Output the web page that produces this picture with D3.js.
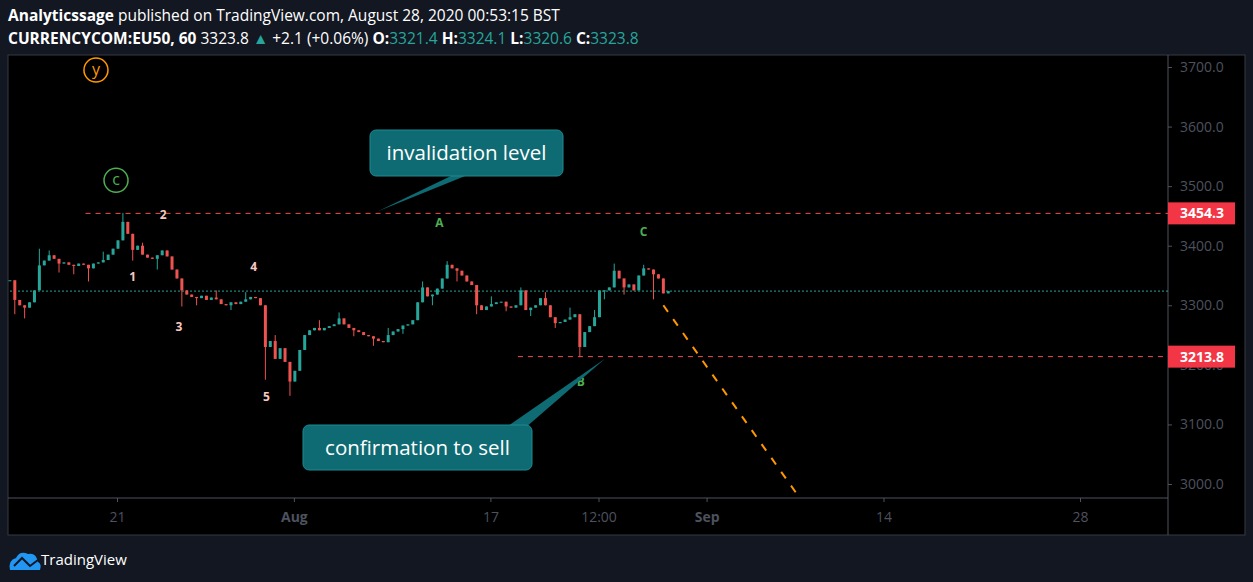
<!DOCTYPE html>
<html>
<head>
<meta charset="utf-8">
<script src="https://cdn.jsdelivr.net/npm/d3@7"></script>
<style>
body { margin:0; background:#131722; font-family:"Open Sans", "Noto Sans", sans-serif; }
</style>
</head>
<body>
<svg id="chart" width="1253" height="582"></svg>
<script>
// 6-hour closes, starting Jul 14 (t in trading days, 0 = Jul 21)
var closes = [3342,3309,3300,3296,3305,3325,3367,3375,3384,3378,3370,3372,3368,3366,3370,3368,3362,3370,3372,3376,
  3385,3395,3409,3440,3420,3393,3400,3385,3380,3378,3384,3392,3382,3360,3345,3325,3318,3314,3312,3316,
  3309,3313,3310,3302,3300,3305,3302,3306,3310,3314,3312,3300,3230,3240,3210,3228,3205,3172,3190,3225,
  3250,3258,3262,3258,3262,3265,3268,3278,3268,3262,3258,3255,3250,3248,3244,3240,3238,3250,3256,3260,
  3266,3268,3275,3305,3330,3315,3318,3328,3345,3368,3362,3358,3350,3340,3334,3300,3292,3298,3302,3305,
  3306,3298,3296,3300,3325,3292,3296,3300,3312,3300,3280,3270,3272,3276,3280,3285,3230,3255,3265,3280,
  3325,3325,3330,3358,3345,3330,3335,3325,3350,3362,3360,3352,3345,3320,3323.8];
var tStart = -5.45, tStep = 0.25;
// wick extremes [bar index, price]
var spikes = [[1,3285],[3,3278],[6,3395],[8,3392],[10,3355],[13,3352],[16,3340],[19,3390],[23,3455],[25,3375],[27,3405],
  [30,3360],[33,3372],[35,3298],[38,3300],[42,3325],[45,3292],[48,3322],[52,3175],[54,3250],[57,3148],[60,3238],[63,3275],
  [67,3288],[70,3248],[74,3232],[77,3262],[80,3252],[84,3340],[86,3300],[89,3374],[91,3340],[95,3285],[98,3315],[101,3290],
  [104,3330],[106,3282],[109,3322],[111,3262],[114,3296],[116,3213],[119,3292],[121,3310],[123,3370],[125,3318],[129,3368],[131,3310]];

var priceTicks = [3000,3100,3200,3300,3400,3500,3600,3700];
var timeTicks = [{t:0,l:"21"},{t:9,l:"Aug"},{t:19,l:"17"},{t:24.5,l:"12:00"},{t:30,l:"Sep"},{t:39,l:"14"},{t:49,l:"28"}];

var lastPrice = 3323.8, invalidation = 3454.3, confirmation = 3213.8;
var projection = [{t:27.8,p:3300},{t:34.6,p:2983}];
var waveLabels = [{t:0.8,p:3340,l:"1"},{t:2.35,p:3445,l:"2"},{t:3.15,p:3256,l:"3"},{t:6.95,p:3357,l:"4"},{t:7.6,p:3139,l:"5"}];
var abcLabels = [{t:16.4,p:3432,l:"A"},{t:23.6,p:3165,l:"B"},{t:26.8,p:3416,l:"C"}];
var circles = [{t:-1.07,p:3695,l:"y",c:"#ff9800"},{t:-0.05,p:3510,l:"c",c:"#4caf50"}];

var svg = d3.select("#chart");
var L = 10, R = 1168, T = 56, B = 498;
var x = d3.scaleLinear().domain([0,49]).range([117,1080]);
var y = d3.scaleLinear().domain([3000,3700]).range([484,67]);

svg.append("rect").attr("x",8).attr("y",55).attr("width",1237).attr("height",480).attr("fill","#000").attr("stroke","#363a45");
svg.append("line").attr("x1",R).attr("x2",R).attr("y1",55).attr("y2",535).attr("stroke","#50535e");
svg.append("line").attr("x1",8).attr("x2",R).attr("y1",B).attr("y2",B).attr("stroke","#50535e");

// header
var h = svg.append("text").attr("x",8).attr("y",21).attr("fill","#fff").attr("font-size",15.5);
h.append("tspan").attr("font-weight","bold").text("Analyticssage");
h.append("tspan").text(" published on TradingView.com, August 28, 2020 00:53:15 BST");
var h2 = svg.append("text").attr("x",8).attr("y",44).attr("fill","#fff").attr("font-size",15.5);
h2.append("tspan").attr("font-weight","bold").text("CURRENCYCOM:EU50, 60");
h2.append("tspan").text(" 3323.8 ");
h2.append("tspan").attr("fill","#26a69a").text("\u25B2");
h2.append("tspan").text(" +2.1 (+0.06%) ");
[["O:","3321.4"],["H:","3324.1"],["L:","3320.6"],["C:","3323.8"]].forEach(function(d){
  h2.append("tspan").attr("font-weight","bold").text(d[0]);
  h2.append("tspan").attr("fill","#26a69a").text(d[1]+" ");
});

// axes
var yAxis = svg.append("g").attr("transform","translate("+R+",0)")
  .call(d3.axisRight(y).tickValues(priceTicks).tickFormat(d3.format(".1f")).tickSize(4).tickPadding(8));
yAxis.select(".domain").remove();
yAxis.selectAll("line").attr("stroke","#50535e");
yAxis.selectAll("text").attr("fill","#4c525e").attr("font-size",14).attr("font-family","Open Sans");

var xAxis = svg.append("g").attr("transform","translate(0,"+B+")")
  .call(d3.axisBottom(x).tickValues(timeTicks.map(function(d){return d.t;}))
    .tickFormat(function(d,i){return timeTicks[i].l;}).tickSize(4).tickPadding(10));
xAxis.select(".domain").remove();
xAxis.selectAll("line").attr("stroke","#50535e");
xAxis.selectAll("text").attr("fill","#4c525e").attr("font-size",14).attr("font-family","Open Sans")
  .attr("font-weight",function(d,i){return /[A-Za-z]/.test(timeTicks[i].l)?"bold":null;});

var plot = svg.append("g");

// levels
plot.append("line").attr("x1",L).attr("x2",R).attr("y1",y(lastPrice)).attr("y2",y(lastPrice))
  .attr("stroke","#26a69a").attr("stroke-dasharray","2,2");
plot.append("line").attr("x1",x(-1.6)).attr("x2",R).attr("y1",y(invalidation)).attr("y2",y(invalidation))
  .attr("stroke","#ef5350").attr("stroke-dasharray","5,5");
plot.append("line").attr("x1",x(20.4)).attr("x2",R).attr("y1",y(confirmation)).attr("y2",y(confirmation))
  .attr("stroke","#ef5350").attr("stroke-dasharray","5,5");

// candles
var bars = closes.map(function(c,i){
  var o = i ? closes[i-1] : c;
  return {t:tStart+i*tStep, o:o, c:c, h:Math.max(o,c), l:Math.min(o,c)};
});
spikes.forEach(function(s){ var b = bars[s[0]]; b.h = Math.max(b.h,s[1]); b.l = Math.min(b.l,s[1]); });
var g = plot.selectAll(".candle").data(bars).enter().append("g");
g.append("line").attr("x1",function(d){return x(d.t);}).attr("x2",function(d){return x(d.t);})
  .attr("y1",function(d){return y(d.h);}).attr("y2",function(d){return y(d.l);})
  .attr("stroke",function(d){return d.c>=d.o?"#26a69a":"#ef5350";});
g.append("rect").attr("x",function(d){return x(d.t)-1.5;}).attr("width",3)
  .attr("y",function(d){return y(Math.max(d.o,d.c));})
  .attr("height",function(d){return Math.max(1,Math.abs(y(d.o)-y(d.c)));})
  .attr("fill",function(d){return d.c>=d.o?"#26a69a":"#ef5350";});

// projection
plot.append("path").attr("d",d3.line().x(function(d){return x(d.t);}).y(function(d){return y(d.p);})(projection))
  .attr("stroke","#ff9800").attr("stroke-width",2).attr("stroke-dasharray","8,9").attr("fill","none");

// wave labels
plot.selectAll(".w").data(waveLabels).enter().append("text")
  .attr("x",function(d){return x(d.t);}).attr("y",function(d){return y(d.p);})
  .attr("text-anchor","middle").attr("font-size",12).attr("font-weight","bold").attr("fill","#f8c8c0")
  .text(function(d){return d.l;});
plot.selectAll(".abc").data(abcLabels).enter().append("text")
  .attr("x",function(d){return x(d.t);}).attr("y",function(d){return y(d.p);})
  .attr("text-anchor","middle").attr("font-size",12).attr("font-weight","bold").attr("fill","#4caf50")
  .text(function(d){return d.l;});
var cg = plot.selectAll(".circ").data(circles).enter().append("g");
cg.append("circle").attr("cx",function(d){return x(d.t);}).attr("cy",function(d){return y(d.p);}).attr("r",12)
  .attr("fill","none").attr("stroke",function(d){return d.c;}).attr("stroke-width",1.5);
cg.append("text").attr("x",function(d){return x(d.t);}).attr("y",function(d){return y(d.p)+5;})
  .attr("text-anchor","middle").attr("font-size",16).attr("fill",function(d){return d.c;}).text(function(d){return d.l;});

// callouts
function callout(bx,by,bw,bh,txt,tail){
  plot.append("path").attr("d","M"+tail[0]+" "+tail[1]+" L"+tail[2]+" "+tail[3]+" L"+tail[4]+" "+tail[5]+" Z").attr("fill","#0f6b73");
  plot.append("rect").attr("x",bx).attr("y",by).attr("width",bw).attr("height",bh).attr("rx",6)
    .attr("fill","#0f6b73").attr("stroke","#1c8a92");
  plot.append("text").attr("x",bx+bw/2).attr("y",by+bh/2+7).attr("text-anchor","middle")
    .attr("fill","#fff").attr("font-size",20.5).attr("font-weight",500).text(txt);
}
callout(370,130,193,46,"invalidation level",[455,174,378,y(invalidation)-2,480,170]);
callout(303,425,229,45,"confirmation to sell",[505,428,605,y(confirmation)+2,525,428]);

// price tags
[invalidation,confirmation].forEach(function(p){
  svg.append("rect").attr("x",R).attr("y",y(p)-11).attr("width",67).attr("height",22).attr("fill","#f23645");
  svg.append("text").attr("x",R+34).attr("y",y(p)+5).attr("text-anchor","middle").attr("fill","#fff")
    .attr("font-size",14).attr("font-weight","bold").text(p.toFixed(1));
});

// footer
var lg = svg.append("g").attr("transform","translate(8,548)");
lg.append("path").attr("d","M2 22 Q0 12 8 10 Q12 2 20 6 Q28 4 30 14 Q34 16 32 22 Z").attr("fill","#2196f3");
lg.append("path").attr("d","M6 18 L14 10 L22 18 L30 12").attr("stroke","#131722").attr("stroke-width",2).attr("fill","none");
svg.append("text").attr("x",41).attr("y",565).attr("fill","#fff").attr("font-size",15).text("TradingView");
</script>
</body>
</html>
